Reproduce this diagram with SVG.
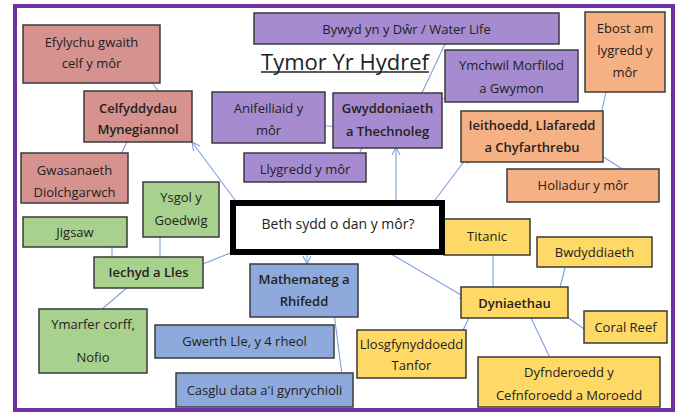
<svg xmlns="http://www.w3.org/2000/svg" width="683" height="414" viewBox="0 0 683 414">
<style>
.n{stroke:#3a3a3a;stroke-width:1.5}
.pk{fill:#D5928F}.pu{fill:#A68BD1}.or{fill:#F5B183}.gr{fill:#A9D18E}.bl{fill:#8EA9DB}.ye{fill:#FFD966}
text{font-family:"Open Sans","Liberation Sans",sans-serif;font-size:13px;fill:#222;text-anchor:middle;dominant-baseline:central}
.b{font-weight:600}
.c line{stroke:#7F9FDD;stroke-width:1.1}
</style>
<defs>
<marker id="a" markerWidth="10" markerHeight="10" refX="9" refY="5" orient="auto" markerUnits="userSpaceOnUse">
<path d="M1,1 L9,5 L1,9" fill="none" stroke="#7F9FDD" stroke-width="1.1"/>
</marker>
</defs>
<rect x="0" y="0" width="683" height="414" fill="#fff"/>
<rect x="15" y="6" width="658" height="404" fill="#fff" stroke="#7030A0" stroke-width="4"/>
<g id="title">
<text x="345" y="61" style="font-size:22px">Tymor Yr Hydref</text>
<line x1="261" y1="72" x2="429" y2="72" stroke="#222" stroke-width="1.3"/>
</g>
<g class="c" id="connectors">
<line x1="147" y1="76" x2="159" y2="92"/>
<line x1="127" y1="142" x2="117" y2="162"/>
<line x1="238" y1="204" x2="192" y2="142" marker-end="url(#a)"/>
<line x1="312" y1="125" x2="343" y2="127"/>
<line x1="355" y1="162" x2="364" y2="144"/>
<line x1="445" y1="44" x2="420" y2="97"/>
<line x1="473" y1="93" x2="437" y2="100"/>
<line x1="396" y1="201" x2="396" y2="147" marker-end="url(#a)"/>
<line x1="432" y1="204" x2="469" y2="155" marker-end="url(#a)"/>
<line x1="606" y1="92" x2="597" y2="133"/>
<line x1="597" y1="153" x2="632" y2="175"/>
<line x1="112" y1="237" x2="112" y2="267"/>
<line x1="160" y1="229" x2="160" y2="257"/>
<line x1="128" y1="287" x2="102" y2="309"/>
<line x1="245" y1="247" x2="193" y2="268" marker-end="url(#a)"/>
<line x1="307" y1="254" x2="307" y2="264" marker-end="url(#a)"/>
<line x1="334" y1="313" x2="343" y2="383"/>
<line x1="386" y1="251" x2="468" y2="299" marker-end="url(#a)"/>
<line x1="493" y1="247" x2="493" y2="289"/>
<line x1="567" y1="260" x2="557" y2="299"/>
<line x1="557" y1="310" x2="597" y2="338"/>
<line x1="531" y1="318" x2="552" y2="362"/>
<line x1="473" y1="310" x2="462" y2="332"/>
</g>
<g id="efylychu"><rect class="n pk" x="23" y="25" width="137" height="58"/><text x="91.5" y="42">Efylychu gwaith</text><text x="91.5" y="63">celf y môr</text></g>
<g id="celfyddydau"><rect class="n pk" x="84" y="91" width="108" height="51"/><text class="b" x="138" y="108">Celfyddydau</text><text class="b" x="138" y="129">Mynegiannol</text></g>
<g id="gwasanaeth"><rect class="n pk" x="21" y="153" width="107" height="50"/><text x="74.5" y="170">Gwasanaeth</text><text x="74.5" y="192">Diolchgarwch</text></g>
<g id="bywyd"><rect class="n pu" x="254" y="13" width="305" height="31"/><text x="406.5" y="29">Bywyd yn y Dŵr / Water Life</text></g>
<g id="anifeiliaid"><rect class="n pu" x="212" y="92" width="113" height="51"/><text x="268.5" y="108">Anifeiliaid y</text><text x="268.5" y="130">môr</text></g>
<g id="gwyddoniaeth"><rect class="n pu" x="333" y="93" width="109" height="55"/><text class="b" x="387.5" y="108">Gwyddoniaeth</text><text class="b" x="387.5" y="131">a Thechnoleg</text></g>
<g id="llygredd"><rect class="n pu" x="244" y="153" width="122" height="29"/><text x="305" y="169">Llygredd y môr</text></g>
<g id="ymchwil"><rect class="n pu" x="445" y="50" width="133" height="52"/><text x="511.5" y="65">Ymchwil Morfilod</text><text x="511.5" y="88">a Gwymon</text></g>
<g id="ebost"><rect class="n or" x="585" y="12" width="80" height="80"/><text x="625" y="28">Ebost am</text><text x="625" y="50">lygredd y</text><text x="625" y="72">môr</text></g>
<g id="ieithoedd"><rect class="n or" x="461" y="111" width="142" height="51"/><text class="b" x="532" y="125">Ieithoedd, Llafaredd</text><text class="b" x="532" y="147">a Chyfarthrebu</text></g>
<g id="holiadur"><rect class="n or" x="507" y="169" width="152" height="33"/><text x="583" y="185">Holiadur y môr</text></g>
<g id="ysgol"><rect class="n gr" x="143" y="182" width="76" height="55"/><text x="181" y="197">Ysgol y</text><text x="181" y="220">Goedwig</text></g>
<g id="jigsaw"><rect class="n gr" x="23" y="217" width="104" height="30"/><text x="75" y="232">Jigsaw</text></g>
<g id="iechyd"><rect class="n gr" x="94" y="257" width="109" height="31"/><text class="b" x="148.5" y="272">Iechyd a Lles</text></g>
<g id="ymarfer"><rect class="n gr" x="39" y="309" width="108" height="64"/><text x="93" y="324">Ymarfer corff,</text><text x="93" y="357">Nofio</text></g>
<g id="titanic"><rect class="n ye" x="444" y="219" width="86" height="36"/><text x="487" y="236">Titanic</text></g>
<g id="central"><rect x="233" y="203" width="209" height="49" fill="#fff" stroke="#000" stroke-width="6"/><text x="338" y="223" style="font-size:14px">Beth sydd o dan y môr?</text></g>
<g id="mathemateg"><rect class="n bl" x="250" y="264" width="108" height="53"/><text class="b" x="304" y="279">Mathemateg a</text><text class="b" x="304" y="301">Rhifedd</text></g>
<g id="gwerth"><rect class="n bl" x="155" y="325" width="179" height="33"/><text x="244.5" y="341">Gwerth Lle, y 4 rheol</text></g>
<g id="casglu"><rect class="n bl" x="176" y="373" width="177" height="34"/><text x="264.5" y="390">Casglu data a'i gynrychioli</text></g>
<g id="bwdyddiaeth"><rect class="n ye" x="537" y="237" width="115" height="30"/><text x="594.5" y="252">Bwdyddiaeth</text></g>
<g id="dyniaethau"><rect class="n ye" x="461" y="287" width="107" height="31"/><text class="b" x="514.5" y="303">Dyniaethau</text></g>
<g id="coral"><rect class="n ye" x="584" y="311" width="83" height="32"/><text x="625.5" y="327">Coral Reef</text></g>
<g id="llosg"><rect class="n ye" x="357" y="330" width="109" height="48"/><text x="411.5" y="344">Llosgfynyddoedd</text><text x="411.5" y="365">Tanfor</text></g>
<g id="dyfnderoedd"><rect class="n ye" x="478" y="357" width="182" height="50"/><text x="569" y="372">Dyfnderoedd y</text><text x="569" y="395">Cefnforoedd a Moroedd</text></g>
</svg>
